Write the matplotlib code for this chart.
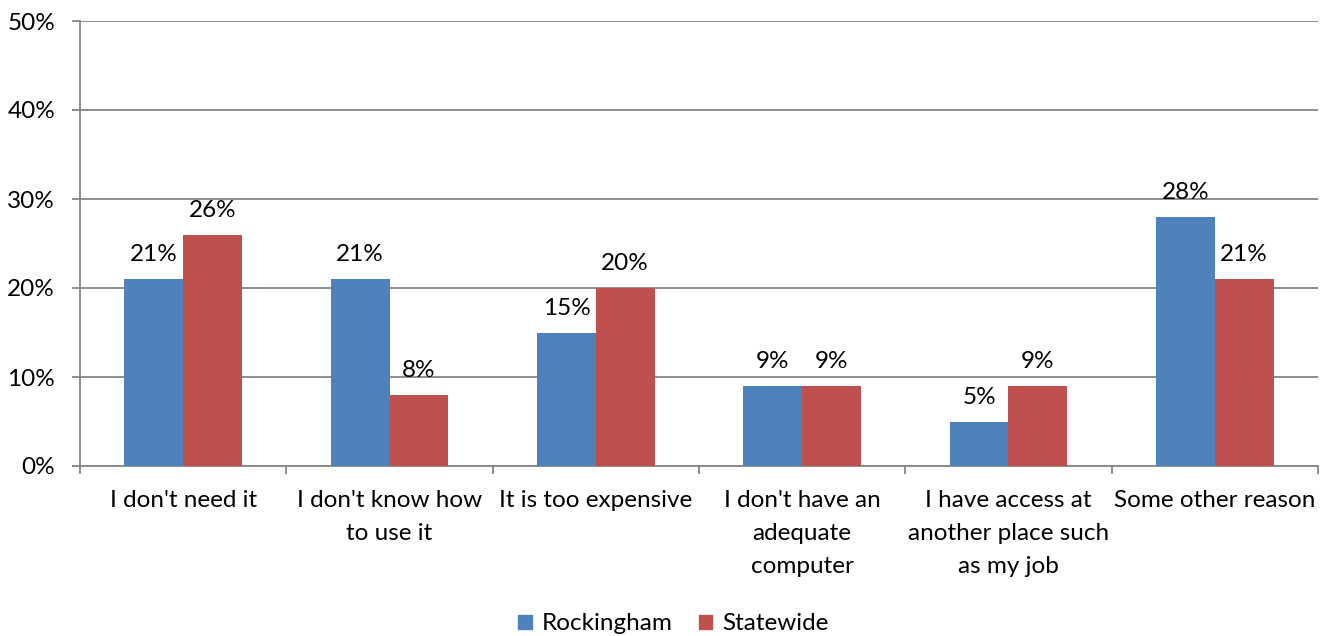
import numpy as np
import matplotlib
matplotlib.use("Agg")
import matplotlib.pyplot as plt
from matplotlib.patches import Patch

plt.rcParams['font.family'] = ['Lato', 'DejaVu Sans']

categories = ["I don't need it", "I don't know how\nto use it", "It is too expensive",
              "I don't have an\nadequate\ncomputer", "I have access at\nanother place such\nas my job",
              "Some other reason"]
series_names = ["Rockingham", "Statewide"]
rockingham = [21, 21, 15, 9, 5, 28]
statewide = [26, 8, 20, 9, 9, 21]
colors = ["#4F81BD", "#C0504D"]
yticks = [0, 10, 20, 30, 40, 50]

fs = 17.5
fig = plt.figure(figsize=(13.27, 6.36), dpi=100)
ax = fig.add_axes([80 / 1327, 1 - 466 / 636, 1238 / 1327, 445 / 636])

x = np.arange(len(categories))
w = 0.285
grid_c = "#868686"

for i, (vals, name) in enumerate(zip([rockingham, statewide], series_names)):
    pos = x + (i - 0.5) * w
    ax.bar(pos, vals, width=w, color=colors[i], zorder=3)
    for p, v in zip(pos, vals):
        ax.annotate(f"{v}%", (p, v), xytext=(0, 10), textcoords="offset points",
                    ha="center", va="bottom", fontsize=fs, color="#000000")

ax.set_xlim(-0.5, len(categories) - 0.5)
ax.set_ylim(0, 50)
ax.set_yticks(yticks)
ax.set_yticklabels([f"{t}%" for t in yticks], fontsize=fs)
ax.yaxis.grid(True, color=grid_c, linewidth=1.3, zorder=0)
ax.tick_params(axis="y", length=6, color=grid_c, width=1.3, pad=12)

ax.set_xticks(x)
ax.set_xticklabels(categories, fontsize=fs, linespacing=1.73, va="top")
ax.set_xticks(np.arange(len(categories) + 1) - 0.5, minor=True)
ax.tick_params(axis="x", which="major", length=0, pad=17)
ax.tick_params(axis="x", which="minor", length=6, color=grid_c, width=1.3)

for s in ["top", "right"]:
    ax.spines[s].set_visible(False)
for s in ["left", "bottom"]:
    ax.spines[s].set_color(grid_c)
    ax.spines[s].set_linewidth(1.3)

handles = [Patch(color=c, label=n) for c, n in zip(colors, series_names)]
fig.legend(handles=handles, loc="center", bbox_to_anchor=(0.5075, 1 - 624 / 636), ncol=2,
           frameon=False, fontsize=fs, handlelength=0.55, handleheight=0.55,
           columnspacing=1.1, handletextpad=0.4)

fig.savefig("out.png", dpi=100)
